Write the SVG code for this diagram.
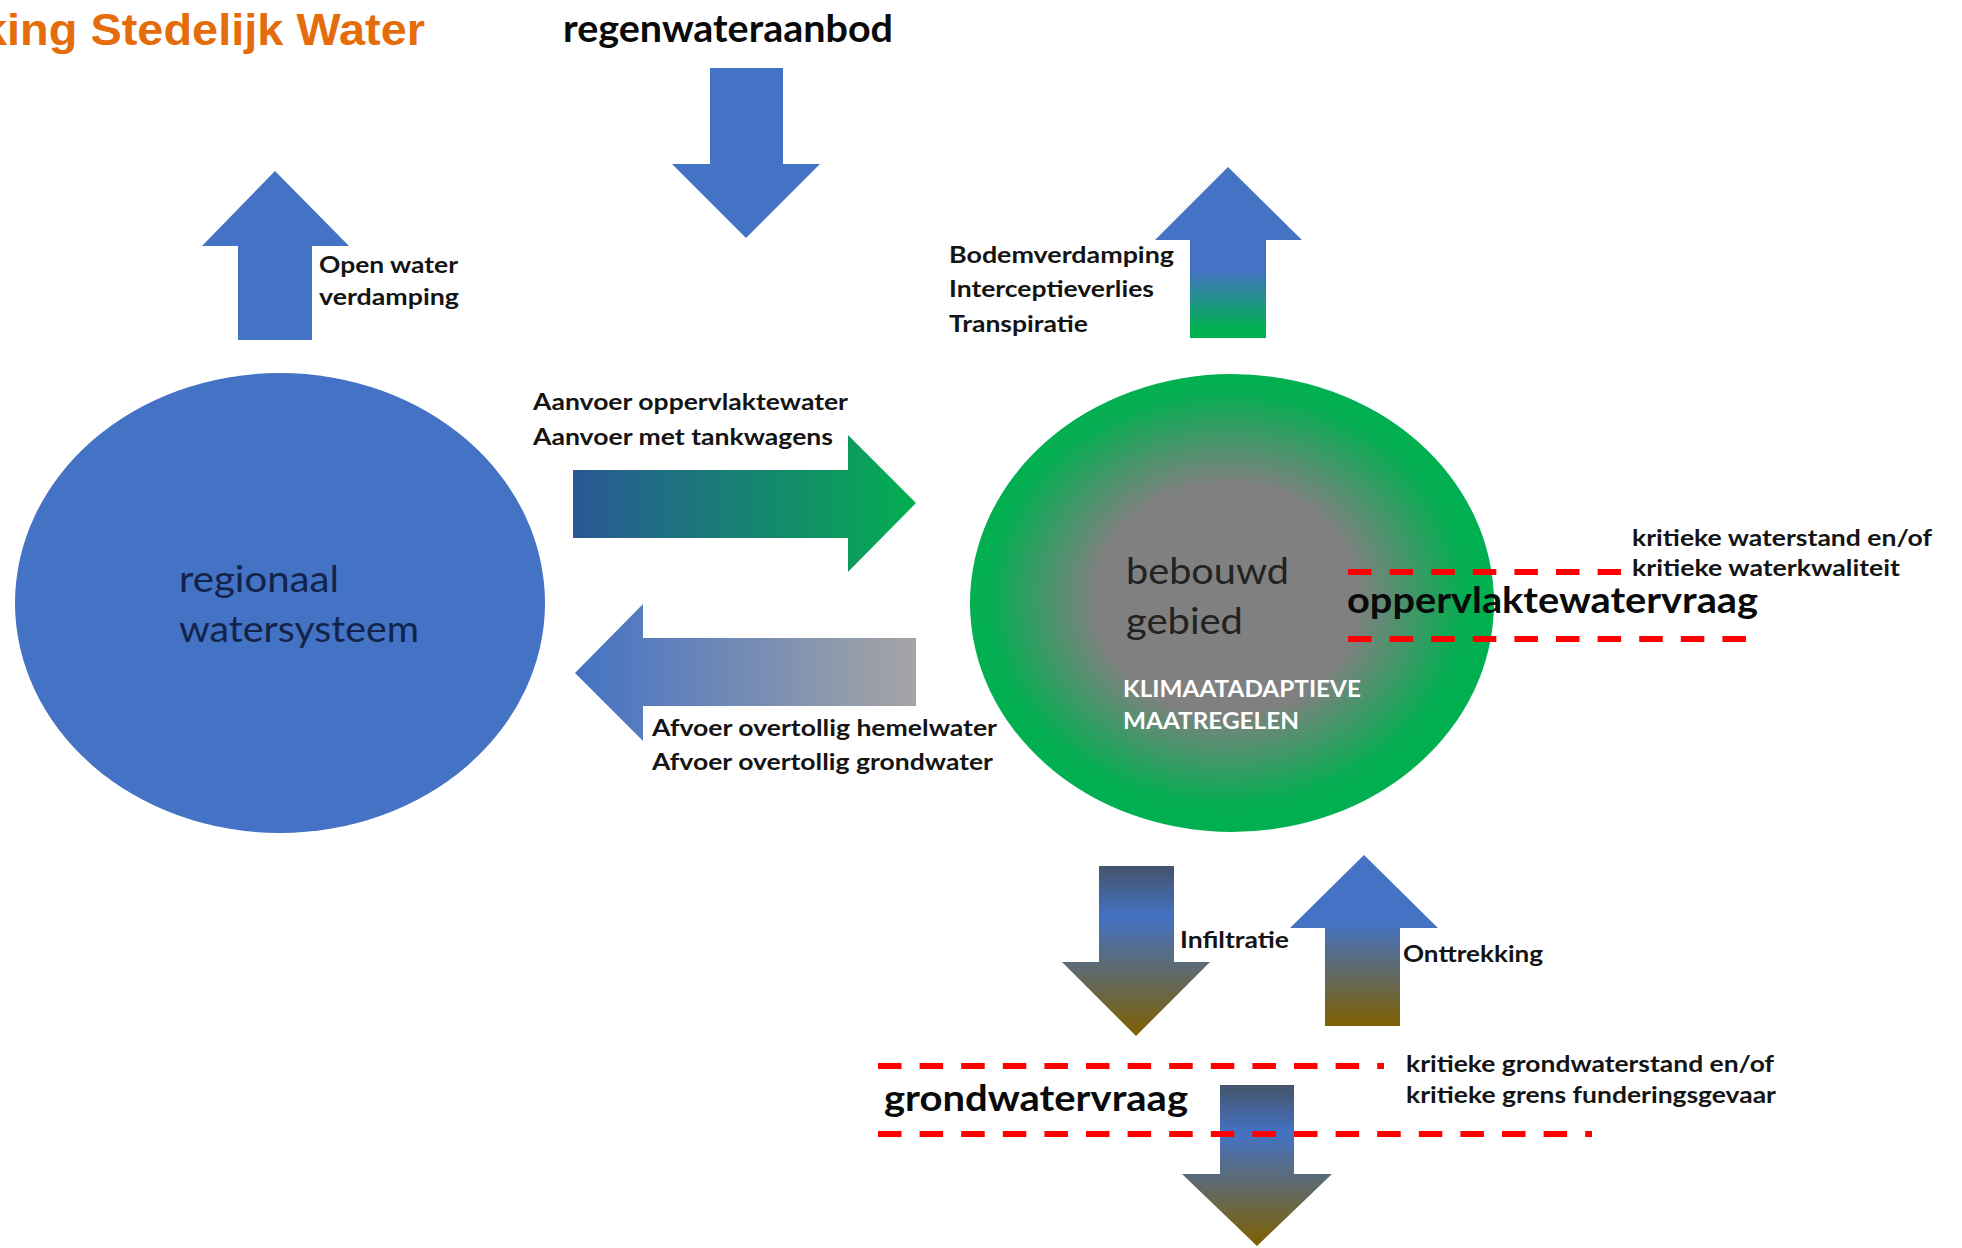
<svg xmlns="http://www.w3.org/2000/svg" width="1962" height="1248" viewBox="0 0 1962 1248">
<style>
.t{font-family:Lato,"Liberation Sans",sans-serif;}
.lbl{font-family:Lato,"Liberation Sans",sans-serif;font-weight:bold;font-size:23px;fill:#141414;}
.krit{font-family:Lato,"Liberation Sans",sans-serif;font-weight:bold;font-size:22px;fill:#141414;}
.big{font-family:Lato,"Liberation Sans",sans-serif;font-weight:bold;font-size:36px;fill:#0a0a0a;}
.node{font-family:Lato,"Liberation Sans",sans-serif;font-size:37px;}
.dash{fill:none;stroke:#FF0000;stroke-width:6;stroke-dasharray:23.5 18.1;}
.blue{fill:#4472C4;}
</style>
<defs>
<linearGradient id="gAanvoer" x1="0" y1="0" x2="1" y2="0">
<stop offset="0" stop-color="#2A5893"/>
<stop offset="0.85" stop-color="#0AA05A"/>
<stop offset="1" stop-color="#00B050"/>
</linearGradient>
<linearGradient id="gAfvoer" x1="0" y1="0" x2="1" y2="0">
<stop offset="0" stop-color="#4472C4"/>
<stop offset="1" stop-color="#A5A5A5"/>
</linearGradient>
<linearGradient id="gBodem" x1="0" y1="0" x2="0" y2="1">
<stop offset="0" stop-color="#4472C4"/>
<stop offset="0.6" stop-color="#4472C4"/>
<stop offset="0.95" stop-color="#00B050"/>
</linearGradient>
<linearGradient id="gDown" x1="0" y1="0" x2="0" y2="1">
<stop offset="0" stop-color="#44546A"/>
<stop offset="0.3" stop-color="#4472C4"/>
<stop offset="1" stop-color="#7F6000"/>
</linearGradient>
<linearGradient id="gUp" x1="0" y1="0" x2="0" y2="1">
<stop offset="0" stop-color="#4472C4"/>
<stop offset="0.4" stop-color="#4472C4"/>
<stop offset="1" stop-color="#7F6000"/>
</linearGradient>
<radialGradient id="gBebouwd" cx="0.49" cy="0.49" r="0.5">
<stop offset="0" stop-color="#808080"/>
<stop offset="0.5" stop-color="#808080"/>
<stop offset="0.9" stop-color="#06AD52"/>
<stop offset="1" stop-color="#00B050"/>
</radialGradient>
</defs>
<rect width="1962" height="1248" fill="#FFFFFF"/>

<g id="title">
<text x="-19" y="45" font-family="'Liberation Sans',Arial,sans-serif" font-weight="bold" font-size="45" fill="#E46C0A" textLength="444" lengthAdjust="spacingAndGlyphs">king Stedelijk Water</text>
</g>

<g id="regenwateraanbod">
<text class="t" x="563" y="42" font-weight="bold" font-size="38" fill="#0a0a0a" textLength="330" lengthAdjust="spacingAndGlyphs">regenwateraanbod</text>
</g>

<g id="regionaal-watersysteem">
<ellipse cx="280" cy="603" rx="265" ry="230" class="blue"/>
<text class="node" fill="#13244A"><tspan x="179" y="592" textLength="160" lengthAdjust="spacingAndGlyphs">regionaal</tspan><tspan x="179" y="642" textLength="240" lengthAdjust="spacingAndGlyphs">watersysteem</tspan></text>
</g>

<g id="bebouwd-gebied">
<ellipse cx="1232" cy="603" rx="262" ry="229" fill="url(#gBebouwd)"/>
<text class="node" fill="#222222"><tspan x="1126" y="584" textLength="163" lengthAdjust="spacingAndGlyphs">bebouwd</tspan><tspan x="1126" y="634" textLength="117" lengthAdjust="spacingAndGlyphs">gebied</tspan></text>
<text class="t" font-weight="bold" font-size="22" fill="#FFFFFF"><tspan x="1123" y="697" textLength="238" lengthAdjust="spacingAndGlyphs">KLIMAATADAPTIEVE</tspan><tspan x="1123" y="729" textLength="176" lengthAdjust="spacingAndGlyphs">MAATREGELEN</tspan></text>
</g>

<g id="connectors">
<polygon id="arrow-openwater" class="blue" points="275,171 349,246 312,246 312,340 238,340 238,246 202,246"/>
<polygon id="arrow-regen" class="blue" points="710,68 783,68 783,164 820,164 746,238 672,164 710,164"/>
<polygon id="arrow-bodem" fill="url(#gBodem)" points="1228,167 1302,240 1266,240 1266,338 1190,338 1190,240 1155,240"/>
<polygon id="arrow-aanvoer" fill="url(#gAanvoer)" points="573,470 848,470 848,435 916,503 848,572 848,538 573,538"/>
<polygon id="arrow-afvoer" fill="url(#gAfvoer)" points="575,673 643,604 643,638 916,638 916,706 643,706 643,741"/>
<polygon id="arrow-infiltratie" fill="url(#gDown)" points="1099,866 1174,866 1174,962 1210,962 1136,1036 1062,962 1099,962"/>
<polygon id="arrow-onttrekking" fill="url(#gUp)" points="1364,855 1438,928 1400,928 1400,1026 1325,1026 1325,928 1290,928"/>
<polygon id="arrow-grondwater" fill="url(#gDown)" points="1220,1085 1294,1085 1294,1174 1332,1174 1257,1246 1182,1174 1220,1174"/>
</g>

<g id="labels">
<text class="lbl"><tspan x="319" y="273" textLength="139" lengthAdjust="spacingAndGlyphs">Open water</tspan><tspan x="319" y="305" textLength="140" lengthAdjust="spacingAndGlyphs">verdamping</tspan></text>
<text class="lbl"><tspan x="949" y="263" textLength="225" lengthAdjust="spacingAndGlyphs">Bodemverdamping</tspan><tspan x="949" y="297" textLength="205" lengthAdjust="spacingAndGlyphs">Interceptieverlies</tspan><tspan x="949" y="332" textLength="139" lengthAdjust="spacingAndGlyphs">Transpiratie</tspan></text>
<text class="lbl"><tspan x="533" y="410" textLength="315" lengthAdjust="spacingAndGlyphs">Aanvoer oppervlaktewater</tspan><tspan x="533" y="445" textLength="300" lengthAdjust="spacingAndGlyphs">Aanvoer met tankwagens</tspan></text>
<text class="lbl"><tspan x="652" y="736" textLength="345" lengthAdjust="spacingAndGlyphs">Afvoer overtollig hemelwater</tspan><tspan x="652" y="770" textLength="341" lengthAdjust="spacingAndGlyphs">Afvoer overtollig grondwater</tspan></text>
<text class="lbl" x="1180" y="948" textLength="109" lengthAdjust="spacingAndGlyphs">Infiltratie</text>
<text class="lbl" x="1403" y="962" textLength="140" lengthAdjust="spacingAndGlyphs">Onttrekking</text>
</g>

<g id="oppervlaktewatervraag">
<line class="dash" x1="1348" y1="572" x2="1621" y2="572"/>
<line class="dash" x1="1348" y1="639" x2="1746" y2="639"/>
<text class="big" x="1347" y="613" textLength="411" lengthAdjust="spacingAndGlyphs">oppervlaktewatervraag</text>
<text class="krit"><tspan x="1632" y="546" textLength="300" lengthAdjust="spacingAndGlyphs">kritieke waterstand en/of</tspan><tspan x="1632" y="576" textLength="268" lengthAdjust="spacingAndGlyphs">kritieke waterkwaliteit</tspan></text>
</g>

<g id="grondwatervraag">
<line class="dash" x1="878" y1="1066" x2="1384" y2="1066"/>
<line class="dash" x1="878" y1="1134" x2="1592" y2="1134"/>
<text class="big" x="884" y="1111" textLength="304" lengthAdjust="spacingAndGlyphs">grondwatervraag</text>
<text class="krit"><tspan x="1406" y="1072" textLength="368" lengthAdjust="spacingAndGlyphs">kritieke grondwaterstand en/of</tspan><tspan x="1406" y="1103" textLength="370" lengthAdjust="spacingAndGlyphs">kritieke grens funderingsgevaar</tspan></text>
</g>
</svg>
